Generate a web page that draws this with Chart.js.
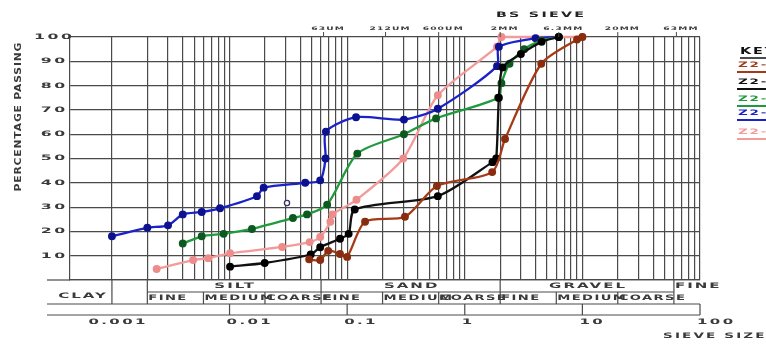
<!DOCTYPE html>
<html>
<head>
<meta charset="utf-8">
<script src="https://cdn.jsdelivr.net/npm/chart.js@4/dist/chart.umd.min.js"></script>
<style>
  html, body { margin: 0; padding: 0; background: #ffffff; }
  canvas { display: block; }
</style>
</head>
<body>
<canvas id="chart" width="766" height="344"></canvas>
<script>
// Particle size distribution (BS sieve) – sizes in mm, percentage passing
const sampleNames = ['Z2-1', 'Z2-2', 'Z2-3', 'Z2-4', 'Z2-5'];

const z21Size = [0.0475, 0.059, 0.069, 0.087, 0.1, 0.142, 0.31, 0.58, 1.71, 2.2, 4.47, 9, 10];
const z21Pass = [8.5, 8.2, 12, 10.7, 9.5, 24, 26, 38.7, 44.4, 58, 89, 99, 100];

const z22Size = [0.0101, 0.0199, 0.049, 0.059, 0.087, 0.103, 0.116, 0.59, 1.72, 1.85, 1.95, 2.1, 3, 4.5, 6.3];
const z22Pass = [5.5, 7, 10.5, 13.5, 17, 19, 29, 34.5, 48.5, 50, 75, 87.5, 93, 98, 100];

const z23Size = [0.004, 0.0058, 0.0089, 0.0155, 0.0346, 0.0456, 0.0676, 0.122, 0.304, 0.57, 1.92, 2.05, 2.4, 3.2, 4.5, 6.3];
const z23Pass = [15, 18, 19, 21, 25.5, 27, 31, 52, 60, 66.5, 75, 81, 89, 95, 98.5, 100];

const z24Size = [0.001, 0.002, 0.003, 0.004, 0.0058, 0.0083, 0.0171, 0.0195, 0.044, 0.059, 0.0655, 0.066, 0.119, 0.304, 0.59, 1.88, 1.95, 4, 6.3];
const z24Pass = [18, 21.5, 22.5, 27, 28, 29.5, 34.5, 38, 40, 41, 50, 61, 67, 66, 70.5, 88, 96, 99.5, 100];

const z25Size = [0.0024, 0.0049, 0.0066, 0.0101, 0.028, 0.048, 0.059, 0.072, 0.075, 0.12, 0.3, 0.59, 1.88, 2.05, 10];
const z25Pass = [4.5, 8.2, 9, 11, 13.6, 15.6, 17.7, 24, 27, 33, 50, 76, 96, 100, 100];

// single open-circle reading
const strayPoint = { size: 0.0308, pass: 31.7 };

// axis annotations
const yTickValues = [10, 20, 30, 40, 50, 60, 70, 80, 90, 100];
const xTickValues = [0.001, 0.01, 0.1, 1, 10, 100];
const xTickLabels = ['0.001', '0.01', '0.1', '1', '10', '100'];
const sieveSizes = [0.063, 0.212, 0.6, 2, 6.3, 20, 63];
const sieveLabels = ['63UM', '212UM', '600UM', '2MM', '6.3MM', '20MM', '63MM'];

// soil classification bands (mm)
const mainBands = [
  { label: 'SILT', from: 0.002, to: 0.06 },
  { label: 'SAND', from: 0.06, to: 2 },
  { label: 'GRAVEL', from: 2, to: 60 }
];
const subBands = [
  { label: 'FINE', from: 0.002 }, { label: 'MEDIUM', from: 0.006 }, { label: 'COARSE', from: 0.02 },
  { label: 'FINE', from: 0.06 }, { label: 'MEDIUM', from: 0.2 }, { label: 'COARSE', from: 0.6 },
  { label: 'FINE', from: 2 }, { label: 'MEDIUM', from: 6 }, { label: 'COARSE', from: 20 }
];

const colors = ['#a63a16', '#111111', '#1f9a3c', '#1b22c8', '#f39a9a'];
const pointColors = ['#8a2c0e', '#000000', '#0d5a20', '#0c1290', '#ee8c8c'];

// log grid: 1..9 x 10^k from 0.001 to 100
const gridTicks = [];
for (let e = -3; e <= 1; e++) {
  for (let m = 1; m <= 9; m++) gridTicks.push(+(m * Math.pow(10, e)).toPrecision(3));
}
gridTicks.push(100);

const series = [
  [z21Size, z21Pass], [z22Size, z22Pass], [z23Size, z23Pass], [z24Size, z24Pass], [z25Size, z25Pass]
];

const datasets = series.map(([s, p], i) => ({
  label: sampleNames[i],
  data: s.map((v, k) => ({ x: v, y: p[k] })),
  borderColor: colors[i],
  backgroundColor: pointColors[i],
  pointBackgroundColor: pointColors[i],
  pointBorderColor: pointColors[i],
  borderWidth: 2.3,
  pointRadius: 2.8,
  tension: 0.25,
  clip: false
}));
datasets.push({
  label: 'reading',
  data: [{ x: strayPoint.size, y: strayPoint.pass }],
  showLine: false,
  pointRadius: 2.6,
  pointBorderWidth: 1.3,
  pointBackgroundColor: '#ffffff',
  pointBorderColor: '#333366',
  clip: false
});

const GRID = '#4a4a4a';
const TEXT = '#3a3a3a';

// wide, extended lettering drawn with a horizontal stretch
function txt(ctx, s, x, y, o) {
  o = o || {};
  const size = o.size || 8, sx = o.sx || 2, ls = o.ls || 0;
  ctx.save();
  ctx.font = (o.weight || 'bold') + ' ' + size + 'px "DejaVu Sans"';
  ctx.letterSpacing = ls + 'px';
  const w = (ctx.measureText(s).width - ls) * sx;
  let left = x;
  if (o.align === 'center') left = x - w / 2;
  else if (o.align === 'right') left = x - w;
  ctx.fillStyle = o.color || TEXT;
  ctx.textBaseline = 'middle';
  ctx.textAlign = 'left';
  ctx.translate(left, y);
  ctx.scale(sx, 1);
  ctx.fillText(s, 0, 0);
  ctx.restore();
  return w;
}

function line(ctx, x1, y1, x2, y2, w, c) {
  ctx.save();
  ctx.strokeStyle = c || GRID;
  ctx.lineWidth = w || 1.2;
  ctx.beginPath();
  ctx.moveTo(x1, y1);
  ctx.lineTo(x2, y2);
  ctx.stroke();
  ctx.restore();
}

const decor = {
  id: 'decor',
  afterDraw(chart) {
    const ctx = chart.ctx;
    const xs = chart.scales.x, ys = chart.scales.y;
    const area = chart.chartArea;
    const px = v => xs.getPixelForValue(v);
    const top = area.top, bot = area.bottom;

    // y tick labels
    yTickValues.forEach(v => txt(ctx, String(v), 53, ys.getPixelForValue(v), { size: 7.5, sx: 2.1, ls: 1.2, align: 'center' }));

    // y title
    ctx.save();
    ctx.translate(19, 117);
    ctx.rotate(-Math.PI / 2);
    txt(ctx, 'PERCENTAGE PASSING', 0, 0, { size: 8, sx: 1.35, ls: 0.6, align: 'center' });
    ctx.restore();

    // top sieve labels and ticks
    txt(ctx, 'BS SIEVE', 540, 15, { size: 7.5, sx: 1.9, ls: 1.2, align: 'center', color: '#222' });
    sieveSizes.forEach((s, i) => {
      const x = px(s);
      txt(ctx, sieveLabels[i], x + 4, 29, { size: 4.8, sx: 1.9, ls: 0.6, align: 'center' });
      line(ctx, x, 32, x, top, 1, GRID);
    });

    // classification table
    const r1 = bot + 12, r2 = bot + 24, r3 = bot + 35;
    const L = 47, R = area.right;
    line(ctx, L, bot, area.left, bot, 1.2);
    line(ctx, px(0.002), r1, px(60), r1, 1.2);
    line(ctx, L, r2, R, r2, 1.2);
    line(ctx, L, r3, R, r3, 1.2);
    line(ctx, px(0.001), bot, px(0.001), r2, 1.2);
    [0.002, 0.06, 2, 60].forEach(v => line(ctx, px(v), bot, px(v), r2, 1.2));
    [0.006, 0.02, 0.2, 0.6, 6, 20].forEach(v => line(ctx, px(v), r1, px(v), r2, 1.2));
    [0.01, 0.1, 1, 10, 100].forEach(v => line(ctx, px(v), r2, px(v), r3, 1.2));

    txt(ctx, 'CLAY', 82, (bot + r2) / 2 + 4, { size: 7.5, sx: 2, ls: 1, align: 'center' });
    mainBands.forEach(b => {
      const c = (px(b.from) + px(b.to)) / 2;
      txt(ctx, b.label, c, bot + 6, { size: 7.5, sx: 2, ls: 1, align: 'center' });
    });
    txt(ctx, 'FINE', px(60) + 1, bot + 6, { size: 7.5, sx: 2, ls: 1 });
    subBands.forEach(b => txt(ctx, b.label, px(b.from) + 1, r1 + 6, { size: 7.5, sx: 1.75, ls: 0.8 }));

    // x tick labels
    xTickValues.forEach((v, i) => {
      const x = px(v);
      if (i === 0) txt(ctx, xTickLabels[i], x + 5, 322, { size: 7.5, sx: 2, ls: 1.2, align: 'center' });
      else txt(ctx, xTickLabels[i], x - 3, 322, { size: 7.5, sx: 2, ls: 1.2 });
    });
    txt(ctx, 'SIEVE SIZE', 663, 336, { size: 7.5, sx: 1.8, ls: 1.2 });

    // key
    txt(ctx, 'KEY', 740, 52, { size: 8, sx: 1.8, ls: 1, color: '#111' });
    line(ctx, 740, 58, 770, 58, 1.5, '#111');
    const keyY = [65, 82, 99, 113, 132];
    sampleNames.forEach((n, i) => {
      txt(ctx, n, 738, keyY[i], { size: 7.5, sx: 1.8, ls: 1, color: colors[i] });
      line(ctx, 737, keyY[i] + 7, 770, keyY[i] + 7, 2, colors[i]);
    });
  }
};

new Chart(document.getElementById('chart').getContext('2d'), {
  type: 'line',
  data: { datasets },
  options: {
    responsive: false,
    animation: false,
    events: [],
    layout: { padding: { left: 70, top: 37, right: 66, bottom: 64 } },
    scales: {
      x: {
        type: 'logarithmic',
        min: 0.00044,
        max: 100,
        afterBuildTicks: s => { s.ticks = gridTicks.map(v => ({ value: v })); },
        ticks: { display: false },
        grid: { color: GRID, lineWidth: 1.2, drawTicks: false },
        border: { display: true, color: GRID, width: 1.2 }
      },
      y: {
        type: 'linear',
        min: 0,
        max: 100,
        ticks: { display: false, stepSize: 10 },
        grid: { color: GRID, lineWidth: 1.2, drawTicks: false },
        border: { display: true, color: GRID, width: 1.2 }
      }
    },
    plugins: { legend: { display: false }, tooltip: { enabled: false } }
  },
  plugins: [decor]
});
</script>
</body>
</html>
